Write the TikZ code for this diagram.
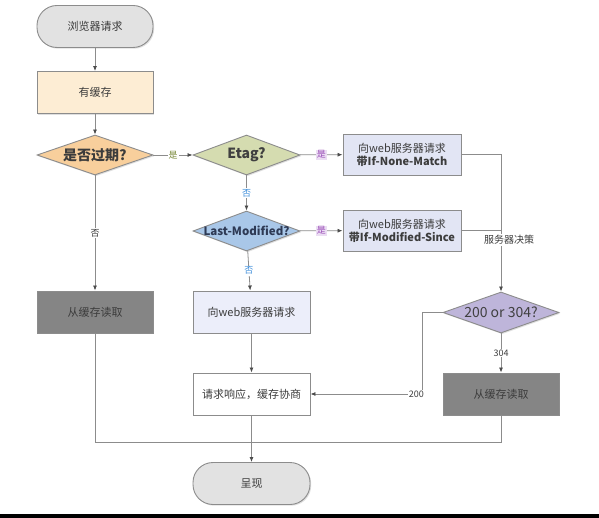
\documentclass[tikz,border=0pt]{standalone}
\usepackage{fontspec}
\setmainfont{Noto Sans CJK SC}
\usetikzlibrary{shapes.geometric,arrows.meta,shadows}
\definecolor{linegray}{HTML}{8C8C8C}
\definecolor{txt}{HTML}{3C3C3C}
\definecolor{termfill}{HTML}{E2E2E2}
\definecolor{cachefill}{HTML}{FDEDD4}
\definecolor{expfill}{HTML}{F8CF9C}
\definecolor{etagfill}{HTML}{D5DCB0}
\definecolor{lmfill}{HTML}{A9C7E8}
\definecolor{srvfill}{HTML}{E2E5F4}
\definecolor{reqfill}{HTML}{ECEEFA}
\definecolor{darkfill}{HTML}{858585}
\definecolor{decfill}{HTML}{BEB5DA}
\definecolor{yesgreen}{HTML}{7A8A3A}
\definecolor{yespurple}{HTML}{9B4FB8}
\definecolor{yesbg}{HTML}{EBDDF3}
\definecolor{noblue}{HTML}{3E8EDB}
\definecolor{lmtext}{HTML}{2E3A55}
\tikzset{
  base/.style={draw=linegray, line width=0.9pt, text=txt, inner sep=0pt, align=center,
    font=\fontsize{11}{13}\selectfont,
    drop shadow={shadow xshift=1.2pt, shadow yshift=-1.2pt, opacity=0.25}},
  term/.style={base, rounded corners=20pt, minimum width=116pt, minimum height=42pt, fill=termfill},
  box/.style={base, rectangle, minimum width=116pt, minimum height=42pt},
  dia/.style={base, diamond, aspect=2.8, minimum width=116pt, minimum height=40pt},
  arr/.style={draw=linegray, line width=0.8pt, -{Latex[length=5pt,width=4pt,color=black!70]}},
  ln/.style={draw=linegray, line width=0.8pt},
  lab/.style={fill=white, inner sep=1pt, font=\fontsize{9}{11}\selectfont, text=txt},
  yes/.style={lab, fill=yesbg, text=yespurple},
  dtext/.style={font=\fontsize{14}{16}\selectfont\bfseries, inner sep=0pt}
}
\begin{document}
\begin{tikzpicture}[x=1pt,y=-1pt]
\useasboundingbox (0,0) rectangle (599,518);
\fill[white] (0,0) rectangle (599,518);
\fill[black] (0,514) rectangle (599,518);

% left column
\node[term] (start) at (95,26.5) {浏览器请求};
\node[box, fill=cachefill] (cache) at (95,92.5) {有缓存};
\node[dia, fill=expfill, minimum width=116pt] (expired) at (95,155) {};
\node[dtext, text=txt] (expiredT) at (95,155) {是否过期?};
\node[box, fill=darkfill] (readL) at (95,312) {从缓存读取};

% middle column
\node[dia, fill=etagfill, minimum width=107pt] (etag) at (246.5,155) {};
\node[dtext, text=black!75] (etagT) at (246.5,155) {Etag?};
\node[dia, fill=lmfill, minimum width=107pt] (lm) at (246.5,231) {};
\node[dtext, font=\fontsize{11.5}{14}\selectfont\bfseries, text=lmtext] (lmT) at (246.5,231) {Last-Modified?};
\node[box, fill=reqfill, minimum width=117pt] (req) at (251.5,312) {向web服务器请求};
\node[box, fill=white, minimum width=117pt] (resp) at (251.5,394) {请求响应，缓存协商};
\node[term, minimum width=117pt] (present) at (251.5,483.5) {呈现};

% right column
\node[box, fill=srvfill, minimum width=118pt, minimum height=41pt] (inm) at (402,154.5)
  {向web服务器请求\\\textbf{带If-None-Match}};
\node[box, fill=srvfill, minimum width=118pt, minimum height=41pt] (ims) at (402,230.5)
  {向web服务器请求\\\textbf{带If-Modified-Since}};
\node[dia, fill=decfill, minimum width=116pt, minimum height=41pt] (dec) at (501,312.5) {};
\node[dtext, font=\fontsize{14}{16}\selectfont, text=black!75] (decT) at (501,312.5) {200 or 304?};
\node[box, fill=darkfill] (readR) at (501,394) {从缓存读取};

\coordinate (c200) at (422,394);
\coordinate (mergeL) at (95,442);
\coordinate (mergeR) at (501,442);

% connectors
\draw[arr] (start) -- (cache);
\draw[arr] (cache) -- (expired);
\draw[arr] (expired) -- node[lab, text=yesgreen] {是} (etag);
\draw[arr] (expired) -- node[lab, text=txt] {否} (readL);
\draw[arr] (etag) -- node[yes] {是} (inm);
\draw[arr] (etag) -- node[lab, text=noblue] {否} (lm);
\draw[arr] (lm) -- node[yes] {是} (ims);
\draw[arr] (lm) -- node[lab, text=noblue] {否} (req);
\draw[arr] (req) -- (resp);
\draw[arr] (inm.east) -| (dec.north);
\draw[ln] (ims.east) -- (ims.east -| dec.north);
\node[lab, font=\fontsize{10}{12}\selectfont] (decide) at (509,240) {服务器决策};
\draw[arr] (dec) -- node[lab] {304} (readR);
\draw[arr] (dec.west) -| (c200) -- node[lab, pos=0.05] {200} (resp.east);
\draw[ln] (readL.south) -- (mergeL) -- (mergeR) -- (readR.south);
\draw[arr] (resp) -- (present);
\end{tikzpicture}
\end{document}
